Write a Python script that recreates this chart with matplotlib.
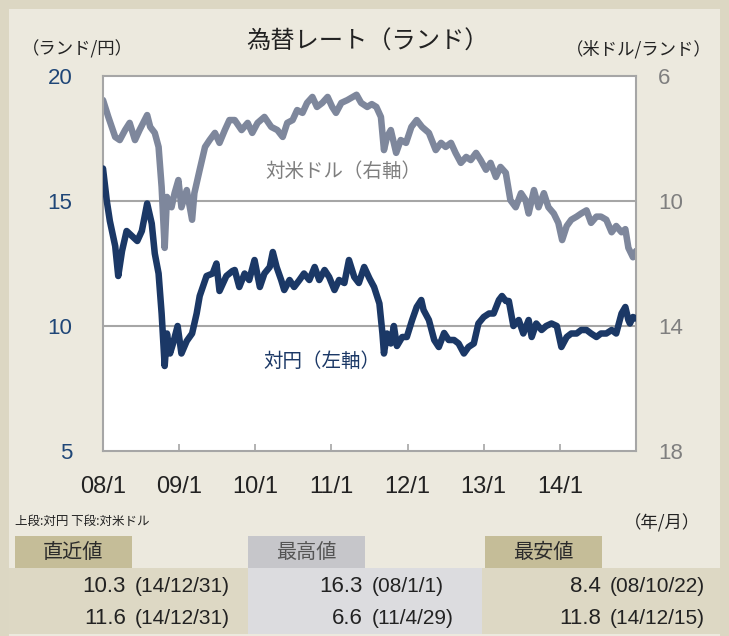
import matplotlib.pyplot as plt
from matplotlib.patches import Rectangle

# ランド相場（年は2008年1月からの経過年）
jpy_t = [0.00, 0.05, 0.09, 0.16, 0.20, 0.25, 0.31, 0.38, 0.45, 0.51,
         0.58, 0.64, 0.68, 0.73, 0.77, 0.81, 0.84, 0.88, 0.92, 0.98,
         1.03, 1.10, 1.17, 1.23, 1.27, 1.36, 1.44, 1.49, 1.53, 1.62,
         1.70, 1.73, 1.79, 1.86, 1.92, 1.99, 2.06, 2.12, 2.19, 2.23,
         2.28, 2.34, 2.38, 2.45, 2.51, 2.58, 2.64, 2.71, 2.78, 2.84,
         2.91, 2.97, 3.04, 3.10, 3.17, 3.23, 3.30, 3.36, 3.43, 3.50,
         3.56, 3.63, 3.67, 3.69, 3.73, 3.78, 3.82, 3.86, 3.93, 3.99,
         4.06, 4.12, 4.18, 4.21, 4.28, 4.35, 4.41, 4.48, 4.54, 4.61,
         4.67, 4.74, 4.80, 4.87, 4.93, 5.00, 5.07, 5.13, 5.20, 5.24,
         5.29, 5.33, 5.39, 5.46, 5.52, 5.59, 5.63, 5.69, 5.76, 5.82,
         5.89, 5.96, 6.02, 6.09, 6.15, 6.22, 6.28, 6.35, 6.41, 6.48,
         6.54, 6.61, 6.68, 6.74, 6.81, 6.86, 6.90, 6.92, 6.96, 7.00]
jpy_v = [16.3, 15.0, 14.2, 13.2, 12.0, 13.0, 13.8, 13.6, 13.4, 13.8,
         14.9, 14.1, 12.9, 12.1, 10.5, 8.4, 9.7, 8.9, 9.3, 10.0,
         8.9, 9.4, 9.7, 10.5, 11.2, 12.0, 12.1, 12.5, 11.4, 12.0,
         12.2, 12.24, 11.56, 12.1, 11.84, 12.64, 11.56, 12.1, 12.36, 12.96,
         12.36, 11.84, 11.44, 11.84, 11.56, 11.84, 12.1, 11.84, 12.36, 11.84,
         12.24, 11.96, 11.44, 11.84, 11.72, 12.64, 11.96, 11.72, 12.36, 11.9,
         11.56, 10.9, 9.7, 8.9, 9.7, 9.3, 10.0, 9.2, 9.56, 9.56,
         10.24, 10.76, 11.04, 10.64, 10.24, 9.44, 9.16, 9.72, 9.44, 9.44,
         9.3, 8.9, 9.16, 9.3, 10.1, 10.36, 10.5, 10.5, 11.04, 11.2,
         11.0, 11.0, 10.0, 10.24, 9.7, 10.24, 9.56, 10.1, 9.84, 10.0,
         10.1, 10.0, 9.16, 9.56, 9.7, 9.7, 9.84, 9.84, 9.7, 9.56,
         9.7, 9.7, 9.84, 9.7, 10.5, 10.76, 10.24, 10.1, 10.36, 10.3]

usd_t = [0.00, 0.07, 0.16, 0.22, 0.29, 0.35, 0.42, 0.48, 0.58, 0.62,
         0.68, 0.73, 0.77, 0.81, 0.84, 0.90, 0.94, 0.99, 1.03, 1.10,
         1.17, 1.20, 1.27, 1.34, 1.40, 1.47, 1.53, 1.60, 1.66, 1.73,
         1.82, 1.90, 1.96, 2.03, 2.12, 2.21, 2.29, 2.36, 2.42, 2.49,
         2.55, 2.62, 2.68, 2.75, 2.81, 2.88, 2.95, 3.01, 3.06, 3.13,
         3.21, 3.33, 3.39, 3.47, 3.53, 3.59, 3.65, 3.69, 3.73, 3.78,
         3.85, 3.91, 3.98, 4.05, 4.12, 4.19, 4.28, 4.37, 4.44, 4.50,
         4.57, 4.63, 4.70, 4.77, 4.83, 4.90, 4.96, 5.03, 5.09, 5.16,
         5.22, 5.29, 5.35, 5.42, 5.49, 5.55, 5.59, 5.66, 5.72, 5.79,
         5.85, 5.92, 5.98, 6.03, 6.09, 6.15, 6.22, 6.28, 6.35, 6.41,
         6.48, 6.54, 6.61, 6.68, 6.74, 6.81, 6.86, 6.90, 6.96, 7.00]
usd_v = [6.77, 7.31, 7.95, 8.05, 7.73, 7.5, 8.05, 7.73, 7.25, 7.63,
         7.82, 8.27, 9.55, 11.5, 9.87, 10.2, 9.75, 9.33, 10.2, 9.65,
         10.6, 9.75, 9.0, 8.27, 8.05, 7.82, 8.14, 7.73, 7.41, 7.41,
         7.73, 7.5, 7.82, 7.5, 7.31, 7.63, 7.73, 7.95, 7.5, 7.41,
         7.09, 7.18, 6.86, 6.67, 6.99, 6.86, 6.67, 6.99, 7.18, 6.86,
         6.77, 6.6, 6.86, 6.99, 6.9, 6.99, 7.31, 8.37, 7.95, 7.73,
         8.46, 8.05, 8.14, 7.63, 7.41, 7.63, 7.82, 8.37, 8.14, 8.27,
         8.14, 8.46, 8.78, 8.59, 8.69, 8.46, 8.69, 9.0, 8.78, 9.23,
         8.91, 9.1, 9.97, 10.2, 9.75, 9.97, 10.4, 9.65, 10.2, 9.75,
         10.2, 10.4, 10.7, 11.25, 10.8, 10.6, 10.5, 10.4, 10.3, 10.7,
         10.5, 10.5, 10.6, 11.0, 10.8, 11.0, 10.9, 11.5, 11.8, 11.6]

year_ticks = [0, 1, 2, 3, 4, 5, 6]
year_labels = ['08/1', '09/1', '10/1', '11/1', '12/1', '13/1', '14/1']
left_ticks = [5, 10, 15, 20]
right_ticks = [6, 10, 14, 18]

# 表（直近値・最高値・最安値）
tbl_heads = ['直近値', '最高値', '最安値']
tbl_row1 = [('10.3', '(14/12/31)'), ('16.3', '(08/1/1)'), ('8.4', '(08/10/22)')]
tbl_row2 = [('11.6', '(14/12/31)'), ('6.6', '(11/4/29)'), ('11.8', '(14/12/15)')]

NAVY = '#1b3866'
GREY_LINE = '#7e879c'
GREY_TXT = '#7f7f7f'
FRAME = '#a6a6a6'
JP = ['Noto Sans CJK JP', 'DejaVu Sans']
NUM = ['Liberation Sans', 'DejaVu Sans']

W, H = 729, 636
fig = plt.figure(figsize=(W / 100, H / 100), dpi=100)
fig.patch.set_facecolor('#dcd7c3')


def px(x, y):
    return x / W, 1 - y / H


# 内側のパネル
fig.patches.append(Rectangle(px(9, 636), 711 / W, 627 / H, transform=fig.transFigure,
                             facecolor='#ece9de', edgecolor='none', zorder=-3))

# 右軸（対米ドル）を下に、左軸（対円）を上に重ねる
ax2 = fig.add_axes([103 / W, 1 - 451 / H, 533 / W, 375 / H], zorder=1)
ax2.set_facecolor('white')
ax2.set_xlim(0, 7)
ax2.set_ylim(18, 6)
ax2.yaxis.tick_right()
ax2.set_xticks([])
for s in ax2.spines.values():
    s.set_visible(False)
for y in [10, 14]:
    ax2.axhline(y, color=FRAME, lw=1.5, zorder=1)
ax2.plot(usd_t, usd_v, color=GREY_LINE, lw=4.7, solid_joinstyle='round',
         solid_capstyle='round', zorder=3)
ax2.set_yticks(right_ticks)
ax2.set_yticklabels([str(v) for v in right_ticks], family=NUM, fontsize=16, color=GREY_TXT)
ax2.tick_params(axis='y', length=0, pad=16)

ax = fig.add_axes([103 / W, 1 - 451 / H, 533 / W, 375 / H], zorder=2)
ax.patch.set_visible(False)
ax.set_xlim(0, 7)
ax.set_ylim(5, 20)
for s in ax.spines.values():
    s.set_color(FRAME)
    s.set_linewidth(1.5)
ax.plot(jpy_t, jpy_v, color=NAVY, lw=4.7, solid_joinstyle='round',
        solid_capstyle='round', zorder=4)

ax.set_xticks(year_ticks)
ax.set_xticklabels(year_labels, family=NUM, fontsize=17, color='#222222')
ax.tick_params(axis='x', direction='in', length=5, width=1.2, color=FRAME, pad=18)
ax.set_yticks(left_ticks)
ax.set_yticklabels([str(v) for v in left_ticks], family=NUM, fontsize=16, color='#1f4677')
ax.tick_params(axis='y', length=0, pad=22)

ax.text(0.305, 0.745, '対米ドル（右軸）', transform=ax.transAxes, family=JP,
        fontsize=14, color=GREY_TXT, va='center')
ax.text(0.30, 0.238, '対円（左軸）', transform=ax.transAxes, family=JP,
        fontsize=14, color=NAVY, va='center')

fig.text(*px(368, 42), '為替レート（ランド）', family=JP, fontsize=17.5,
         color='#222222', ha='center', va='center')
fig.text(*px(22, 49), '（ランド/円）', family=JP, fontsize=12.5,
         color='#222222', va='center')
fig.text(*px(712, 49), '（米ドル/ランド）', family=JP, fontsize=12.5,
         color='#222222', va='center', ha='right')
fig.text(*px(15, 521), '上段:対円 下段:対米ドル', family=JP, fontsize=9,
         color='#222222', va='center')
fig.text(*px(700, 523), '（年/月）', family=JP, fontsize=12.5,
         color='#222222', va='center', ha='right')

# 表の背景
col_x = [9, 248, 482, 720]
row_bg = ['#ddd8c4', '#dcdcdf', '#ddd8c4']
head_bg = ['#c5bd98', '#c6c6ca', '#c5bd98']
head_col = ['#2b2b2b', '#555555', '#2b2b2b']
head_x = [15, 248, 485]
for i in range(3):
    fig.patches.append(Rectangle(px(col_x[i], 634), (col_x[i + 1] - col_x[i]) / W, 66 / H,
                                 transform=fig.transFigure, facecolor=row_bg[i],
                                 edgecolor='none', zorder=-2))
    fig.patches.append(Rectangle(px(head_x[i], 568), 117 / W, 32 / H,
                                 transform=fig.transFigure, facecolor=head_bg[i],
                                 edgecolor='none', zorder=-2))
    fig.text(*px(head_x[i] + 58, 553), tbl_heads[i], family=JP, fontsize=14.5,
             color=head_col[i], ha='center', va='center')

val_x = [126, 363, 601]
for i in range(3):
    for row, y in [(tbl_row1, 586), (tbl_row2, 619)]:
        fig.text(*px(val_x[i], y), row[i][0], family=NUM, fontsize=16,
                 color='#222222', ha='right', va='center')
        fig.text(*px(val_x[i] + 9, y), row[i][1], family=NUM, fontsize=15,
                 color='#222222', ha='left', va='center')

fig.savefig('out.png', dpi=100, facecolor=fig.get_facecolor())
